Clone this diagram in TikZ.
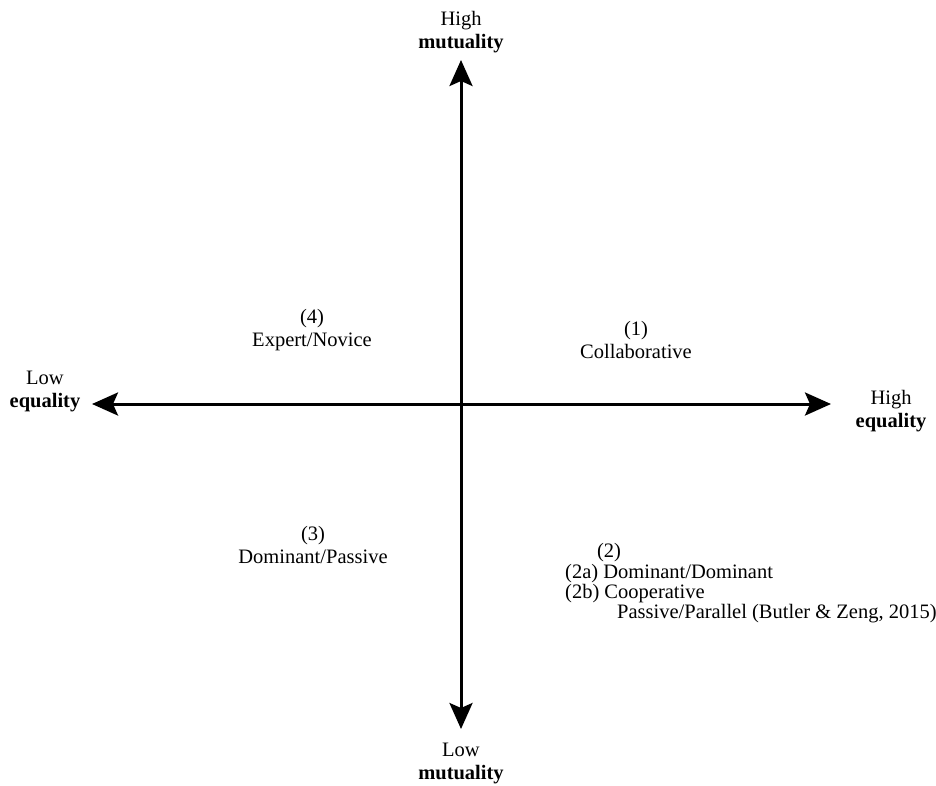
\documentclass[tikz,border=0pt]{standalone}
\usepackage{fontspec}
\setmainfont{Liberation Serif}
\usetikzlibrary{arrows.meta}
\begin{document}
\begin{tikzpicture}[x=1pt,y=-1pt,
  axis/.style={line width=3pt,-{Stealth[length=26pt,width=23pt,inset=5pt]}},
  lbl/.style={align=center,font=\fontsize{20.5}{23}\selectfont,inner sep=0pt},
  txt/.style={align=left,font=\fontsize{20.5}{20}\selectfont,inner sep=0pt}]
\useasboundingbox (0,0) rectangle (936,785);
\coordinate (c) at (461,404);
\coordinate (top) at (461,60);
\coordinate (bot) at (461,729);
\coordinate (lft) at (92,404);
\coordinate (rgt) at (831,404);
\draw[axis] (c) -- (top);
\draw[axis] (c) -- (bot);
\draw[axis] (c) -- (lft);
\draw[axis] (c) -- (rgt);
\node[lbl] (hm) at (461,32) {High\\\textbf{mutuality}};
\node[lbl] (lm) at (461,763) {Low\\\textbf{mutuality}};
\node[lbl] (le) at (45,391) {Low\\\textbf{equality}};
\node[lbl] (he) at (891,411) {High\\\textbf{equality}};
\node[lbl] (q4) at (312,330) {(4)\\Expert/Novice};
\node[lbl] (q1) at (636,340) {(1)\\Collaborative};
\node[lbl] (q3) at (313,545) {(3)\\Dominant/Passive};
\node[lbl] (q2) at (609,553) {(2)};
\node[txt,anchor=north west] (q2t) at (565,564) {(2a) Dominant/Dominant\\(2b) Cooperative\\\hspace{52pt}Passive/Parallel (Butler \& Zeng, 2015)};
\end{tikzpicture}
\end{document}
